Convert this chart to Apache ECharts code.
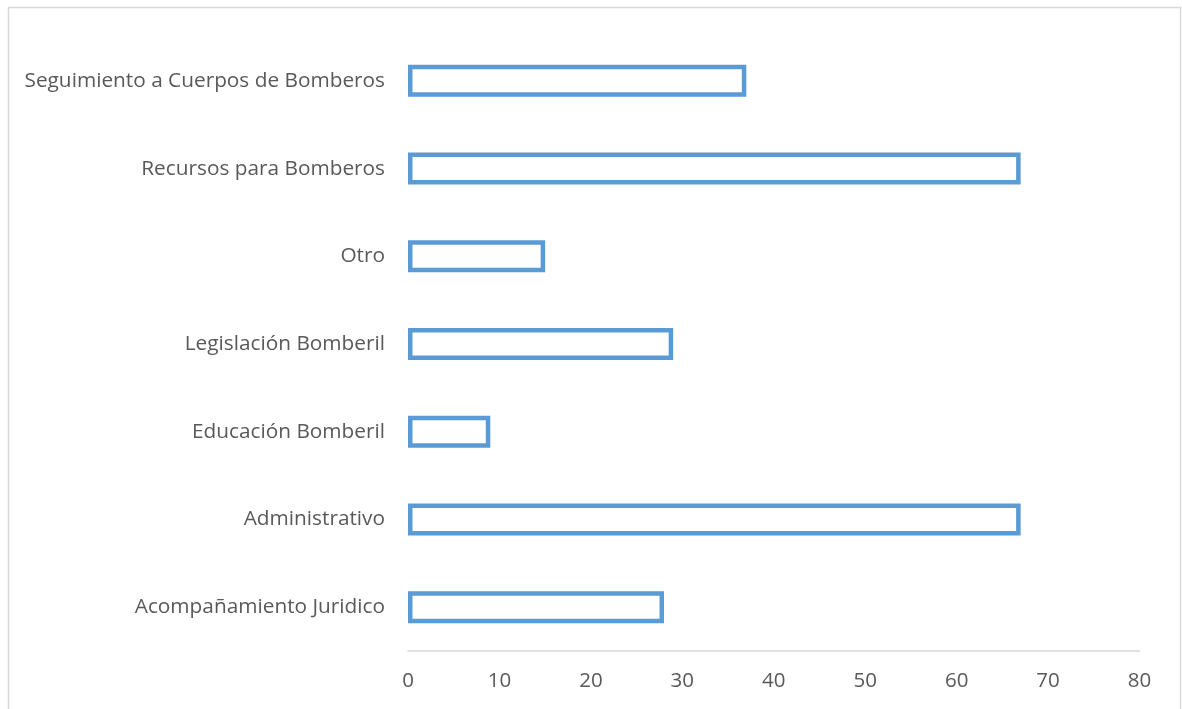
<!DOCTYPE html>
<html>
<head>
<meta charset="utf-8">
<script src="https://cdn.jsdelivr.net/npm/echarts@6/dist/echarts.min.js"></script>
<style>
html,body{margin:0;padding:0;background:#fff;}
#c{width:1182px;height:709px;}
</style>
</head>
<body>
<div id="c"></div>
<script>
const categories = ['Acompañamiento Juridico','Administrativo','Educación Bomberil','Legislación Bomberil','Otro','Recursos para Bomberos','Seguimiento a Cuerpos de Bomberos'];
const values = [28, 67, 9, 29, 15, 67, 37];
const xTicks = [0, 10, 20, 30, 40, 50, 60, 70, 80];

const chart = echarts.init(document.getElementById('c'), null, {renderer: 'canvas'});
const font = 'Open Sans';
chart.setOption({
  animation: false,
  backgroundColor: '#fff',
  graphic: [{
    type: 'rect',
    shape: {x: 8.5, y: 7.5, width: 1172, height: 720},
    style: {fill: 'none', stroke: '#d9d9d9', lineWidth: 1.5},
    silent: true, z: -10
  }],
  grid: {left: 408, right: 42.5, top: 37, bottom: 58, containLabel: false},
  xAxis: {
    type: 'value', min: xTicks[0], max: xTicks[xTicks.length - 1], interval: 10,
    axisLine: {show: true, lineStyle: {color: '#d9d9d9', width: 1.5}},
    axisTick: {show: false},
    splitLine: {show: false},
    axisLabel: {color: '#595959', fontFamily: font, fontSize: 20.5, margin: 20}
  },
  yAxis: {
    type: 'category', data: categories,
    axisLine: {show: false},
    axisTick: {show: false},
    axisLabel: {color: '#595959', fontFamily: font, fontSize: 20.8, margin: 23}
  },
  series: [{
    type: 'bar', data: values, barWidth: 32,
    itemStyle: {color: '#ffffff', borderColor: '#5B9BD5', borderWidth: 4.5}
  }]
});
</script>
</body>
</html>
